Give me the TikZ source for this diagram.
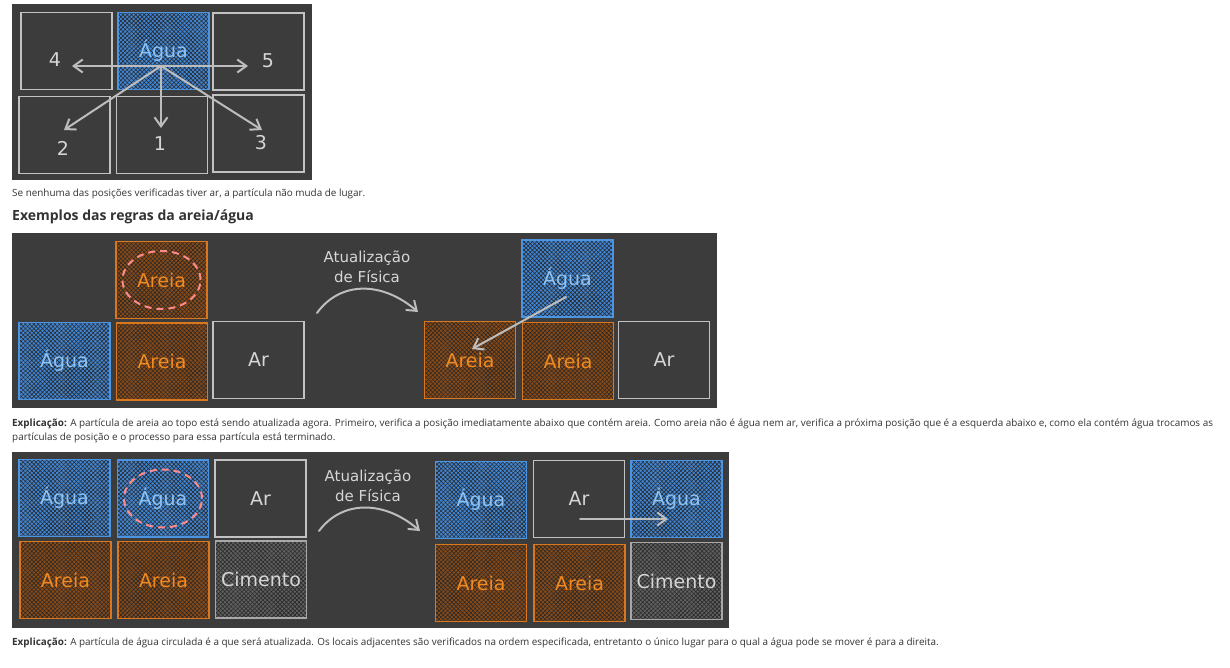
\documentclass[tikz,border=0pt]{standalone}
\usepackage{fontspec}
\setmainfont{Open Sans}
\newfontfamily\sketchfont{DejaVu Sans}
\usepackage{tikz}
\usetikzlibrary{positioning, arrows.meta, patterns.meta}

\definecolor{panelbg}{HTML}{3C3C3C}
\definecolor{hatchcol}{HTML}{2A2A2A}
\definecolor{agualine}{HTML}{4D94E0}
\definecolor{aguafill}{HTML}{3F86D6}
\definecolor{aguatext}{HTML}{8EC4F4}
\definecolor{areialine}{HTML}{D9771F}
\definecolor{areiafill}{HTML}{8A4A16}
\definecolor{areiatext}{HTML}{F08A22}
\definecolor{cimfill}{HTML}{606060}
\definecolor{cimline}{HTML}{A8A8A8}
\definecolor{arline}{HTML}{C2C2C2}
\definecolor{giz}{HTML}{D6D6D6}
\definecolor{setacor}{HTML}{BDBDBD}
\definecolor{circcor}{HTML}{FF8A8A}
\definecolor{texto}{HTML}{333333}

\tikzset{
	celula/.style={minimum width=91pt, minimum height=77pt, inner sep=0pt, line width=1.4pt,
		font=\sketchfont\fontsize{19}{19}\selectfont},
	hachura/.style={pattern={Hatch[angle=45,distance=3pt,line width=.6pt]}, pattern color=hatchcol},
	agua/.style={celula, draw=agualine, preaction={fill=aguafill}, hachura, text=aguatext},
	areia/.style={celula, draw=areialine, preaction={fill=areiafill}, hachura, text=areiatext},
	cimento/.style={celula, draw=cimline, preaction={fill=cimfill}, hachura, text=giz},
	ar/.style={celula, draw=arline, text=giz},
	numero/.style={inner sep=0pt, text=giz, font=\sketchfont\fontsize{19}{19}\selectfont},
	rotulo/.style={inner sep=0pt, text=giz, align=center, font=\sketchfont\fontsize{15}{20}\selectfont},
	seta/.style={draw=setacor, line width=2pt, line cap=round, -{Straight Barb[length=9pt,width=13pt]}},
	marcado/.style={draw=circcor, line width=2pt, dash pattern=on 7pt off 5pt},
	legenda/.style={anchor=west, inner sep=0pt, text=texto, align=left,
		font=\fontsize{9.9}{14}\selectfont}
}

\begin{document}
\begin{tikzpicture}[x=1pt, y=-1pt]

	% Page
	\fill[white] (0,0) rectangle (1230,668);
	\useasboundingbox (0,0) rectangle (1230,668);

	% Panels
	\fill[panelbg] (12,4) rectangle (312,180);
	\fill[panelbg] (12,233) rectangle (717,408);
	\fill[panelbg] (12,452) rectangle (729,628);

	% Neighbours checked by a water particle
	\node[ar] (viz4) at (66.5,51) {};
	\node[agua] (centro) at (163.5,51) {Água};
	\node[ar] (viz5) at (258.5,51.5) {};
	\node[ar] (viz2) at (64.5,135) {};
	\node[ar] (viz1) at (162,135) {};
	\node[ar] (viz3) at (258.5,133.5) {};

	\node[numero] (n4) at (55,60) {4};
	\node[numero] (n5) at (268,61) {5};
	\node[numero] (n2) at (63,148) {2};
	\node[numero] (n1) at (160,144) {1};
	\node[numero] (n3) at (261,143) {3};

	\coordinate (orig) at (161,66);
	\coordinate (fim4) at (72,66);
	\coordinate (fim5) at (248,66);
	\coordinate (fim2) at (64,130);
	\coordinate (fim1) at (161,128);
	\coordinate (fim3) at (262,130);
	\foreach \k in {1,...,5}
		\draw[seta] (orig) -- (fim\k);

	\node[legenda] (leg1) at (12,194) {Se nenhuma das posições verificadas tiver ar, a partícula não muda de lugar.};
	\node[legenda, font=\bfseries\fontsize{14}{16}\selectfont] (titulo) at (12,217) {Exemplos das regras da areia/água};

	% First example: sand falls into water
	\node[areia] (areiaA) at (161.5,280) {Areia};
	\node[agua] (aguaA) at (64.5,361) {Água};
	\node[areia] (areiaB) at (162,361.5) {Areia};
	\node[ar] (arA) at (258.5,360) {Ar};
	\draw[marcado] (areiaA.center) ellipse [x radius=39pt, y radius=29pt];

	\node[rotulo] (fis1) at (367,267) {Atualização\\de Física};
	\coordinate (ini1) at (317,313);
	\coordinate (ter1) at (418,312);
	\draw[seta] (ini1) .. controls (340,281) and (382,281) .. (ter1);

	\node[agua] (aguaC) at (567.5,278.5) {Água};
	\node[areia] (areiaC) at (470,360) {Areia};
	\node[areia] (areiaD) at (568,361) {Areia};
	\node[ar] (arC) at (664,360) {Ar};
	\coordinate (sai1) at (566,297);
	\coordinate (cai1) at (472,349);
	\draw[seta] (sai1) -- (cai1);

	\node[legenda] (leg2) at (12,431) {\textbf{Explicação:} A partícula de areia ao topo está sendo atualizada agora. Primeiro, verifica a posição imediatamente abaixo que contém areia. Como areia não é água nem ar, verifica a próxima posição que é a esquerda abaixo e, como ela contém água trocamos as\\partículas de posição e o processo para essa partícula está terminado.};

	% Second example: water spreads sideways
	\node[agua] (aguaE) at (64.5,498) {Água};
	\node[agua] (aguaF) at (163,498.5) {Água};
	\node[ar] (arE) at (260.5,498.5) {Ar};
	\node[areia] (areiaE) at (65.5,580) {Areia};
	\node[areia] (areiaF) at (163.5,580) {Areia};
	\node[cimento] (cimE) at (261,579.5) {Cimento};
	\draw[marcado] (aguaF.center) ellipse [x radius=39pt, y radius=29pt];

	\node[rotulo] (fis2) at (368,486) {Atualização\\de Física};
	\coordinate (ini2) at (319,531);
	\coordinate (ter2) at (420,531);
	\draw[seta] (ini2) .. controls (342,500) and (384,500) .. (ter2);

	\node[agua] (aguaG) at (481,500) {Água};
	\node[ar] (arG) at (579,499) {Ar};
	\node[agua] (aguaH) at (676.5,499) {Água};
	\node[areia] (areiaG) at (481,583) {Areia};
	\node[areia] (areiaH) at (579.5,583) {Areia};
	\node[cimento] (cimG) at (676.5,581) {Cimento};
	\coordinate (sai2) at (580,519);
	\coordinate (vai2) at (668,519);
	\draw[seta] (sai2) -- (vai2);

	\node[legenda] (leg3) at (12,643) {\textbf{Explicação:} A partícula de água circulada é a que será atualizada. Os locais adjacentes são verificados na ordem especificada, entretanto o único lugar para o qual a água pode se mover é para a direita.};

\end{tikzpicture}
\end{document}
